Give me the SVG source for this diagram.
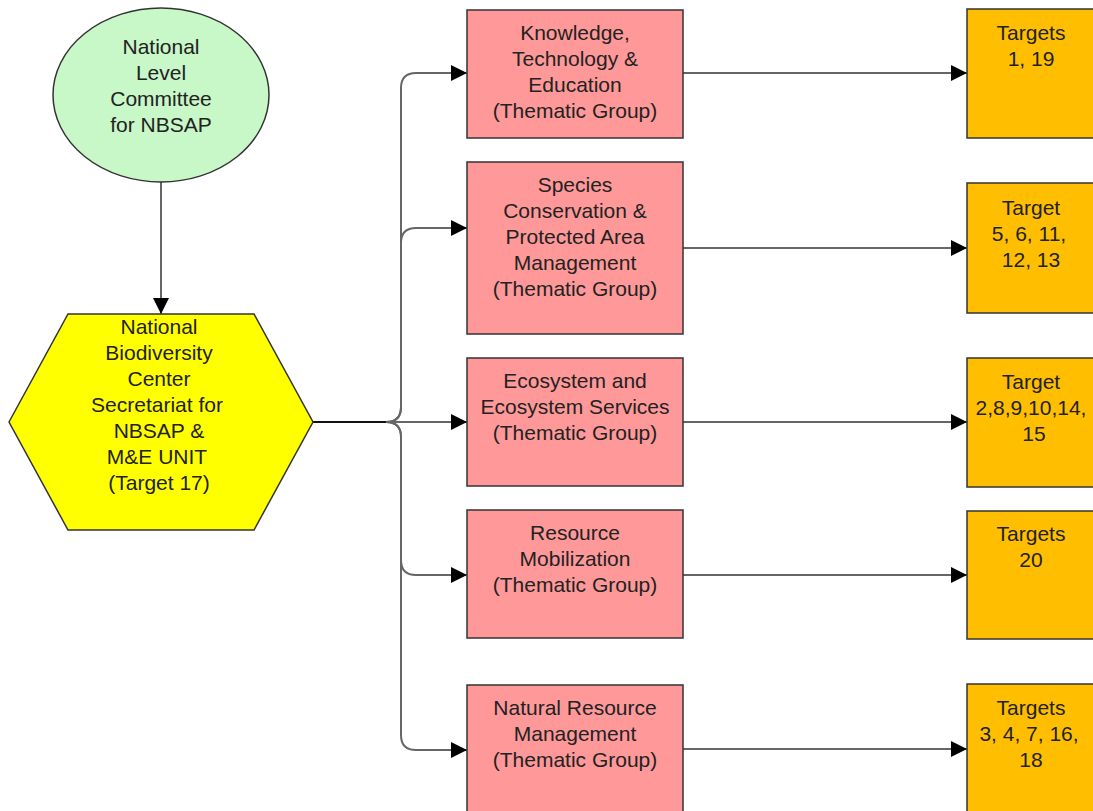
<svg xmlns="http://www.w3.org/2000/svg" width="1093" height="811" viewBox="0 0 1093 811">
<style>
text{font-family:"Liberation Sans",Arial,sans-serif;font-size:21px;fill:#222;text-anchor:middle}
.pink{fill:#ff9999;stroke:#333;stroke-width:1.5}
.orange{fill:#ffbf00;stroke:#333;stroke-width:1.5}
.conn{fill:none;stroke:#666;stroke-width:2}
</style>
<defs>
<marker id="arr" markerUnits="userSpaceOnUse" markerWidth="17" markerHeight="17" refX="16" refY="8" orient="auto">
<path d="M0,0 L16,8 L0,16 z" fill="#000"/>
</marker>
</defs>
<rect width="1093" height="811" fill="#fff"/>
<g id="connectors">
<path class="conn" d="M161 182 V314" marker-end="url(#arr)"/>
<path class="conn" d="M313 422 H386 Q401 422 401 407 V88 Q401 73 416 73 H467" marker-end="url(#arr)"/>
<path class="conn" d="M313 422 H386 Q401 422 401 407 V243 Q401 228 416 228 H467" marker-end="url(#arr)"/>
<path class="conn" d="M313 422 H467" marker-end="url(#arr)"/>
<path class="conn" d="M313 422 H386 Q401 422 401 437 V560 Q401 575 416 575 H467" marker-end="url(#arr)"/>
<path class="conn" d="M313 422 H386 Q401 422 401 437 V735 Q401 750 416 750 H467" marker-end="url(#arr)"/>
<path d="M313 422 H386" stroke="#111" stroke-width="2" fill="none"/>
<path class="conn" d="M683 73 H967" marker-end="url(#arr)"/>
<path class="conn" d="M683 248 H967" marker-end="url(#arr)"/>
<path class="conn" d="M683 422 H967" marker-end="url(#arr)"/>
<path class="conn" d="M683 575 H967" marker-end="url(#arr)"/>
<path class="conn" d="M683 749 H967" marker-end="url(#arr)"/>
</g>
<g id="committee">
<ellipse cx="161" cy="95" rx="108" ry="87" fill="#c8f7c8" stroke="#333" stroke-width="1.5"/>
<text x="161" y="54">National</text>
<text x="161" y="80">Level</text>
<text x="161" y="106">Committee</text>
<text x="161" y="132">for NBSAP</text>
</g>
<g id="secretariat">
<polygon points="9,422 68,314 254,314 313,422 254,530 68,530" fill="#ffff00" stroke="#333" stroke-width="1.5"/>
<text x="159" y="334">National</text>
<text x="159" y="360">Biodiversity</text>
<text x="159" y="386">Center</text>
<text x="157" y="412">Secretariat for</text>
<text x="159" y="438">NBSAP &amp;</text>
<text x="157" y="464">M&amp;E UNIT</text>
<text x="159" y="490">(Target 17)</text>
</g>
<g id="tg1">
<rect class="pink" x="467" y="10" width="216" height="128"/>
<text x="575" y="40">Knowledge,</text>
<text x="575" y="66">Technology &amp;</text>
<text x="575" y="92">Education</text>
<text x="575" y="118">(Thematic Group)</text>
</g>
<g id="tg2">
<rect class="pink" x="467" y="162" width="216" height="172"/>
<text x="575" y="192">Species</text>
<text x="575" y="218">Conservation &amp;</text>
<text x="575" y="244">Protected Area</text>
<text x="575" y="270">Management</text>
<text x="575" y="296">(Thematic Group)</text>
</g>
<g id="tg3">
<rect class="pink" x="467" y="358" width="216" height="128"/>
<text x="575" y="388">Ecosystem and</text>
<text x="575" y="414">Ecosystem Services</text>
<text x="575" y="440">(Thematic Group)</text>
</g>
<g id="tg4">
<rect class="pink" x="467" y="510" width="216" height="128"/>
<text x="575" y="540">Resource</text>
<text x="575" y="566">Mobilization</text>
<text x="575" y="592">(Thematic Group)</text>
</g>
<g id="tg5">
<rect class="pink" x="467" y="685" width="216" height="140"/>
<text x="575" y="715">Natural Resource</text>
<text x="575" y="741">Management</text>
<text x="575" y="767">(Thematic Group)</text>
</g>
<g id="t1">
<rect class="orange" x="967" y="9" width="135" height="129"/>
<text x="1031" y="40">Targets</text>
<text x="1031" y="66">1, 19</text>
</g>
<g id="t2">
<rect class="orange" x="967" y="183" width="135" height="130"/>
<text x="1031" y="215">Target</text>
<text x="1029" y="241">5, 6, 11,</text>
<text x="1031" y="267">12, 13</text>
</g>
<g id="t3">
<rect class="orange" x="967" y="358" width="135" height="129"/>
<text x="1031" y="389">Target</text>
<text x="1031" y="415">2,8,9,10,14,</text>
<text x="1034" y="441">15</text>
</g>
<g id="t4">
<rect class="orange" x="967" y="511" width="135" height="128"/>
<text x="1031" y="541">Targets</text>
<text x="1031" y="567">20</text>
</g>
<g id="t5">
<rect class="orange" x="967" y="684" width="135" height="140"/>
<text x="1031" y="715">Targets</text>
<text x="1029" y="741">3, 4, 7, 16,</text>
<text x="1031" y="767">18</text>
</g>
</svg>
